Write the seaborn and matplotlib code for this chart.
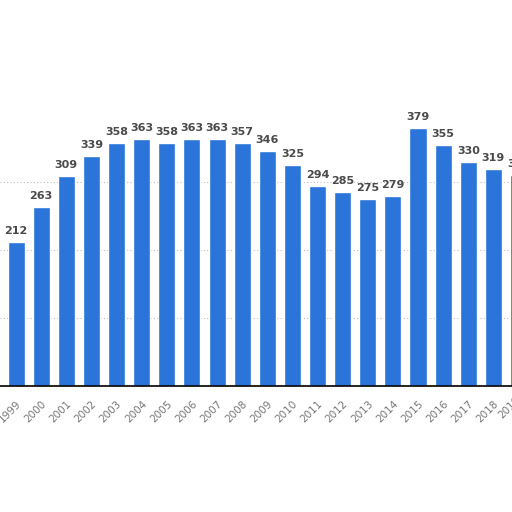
import pandas as pd
import matplotlib
matplotlib.use("Agg")
import matplotlib.pyplot as plt
import seaborn as sns

# data
years = [str(y) for y in range(1999, 2020)]
values = [212, 263, 309, 339, 358, 363, 358, 363, 363, 357, 346,
          325, 294, 285, 275, 279, 379, 355, 330, 319, 310]

df = pd.DataFrame({"year": years, "value": values})

sns.set_style("white")
plt.rcParams["font.family"] = ["DejaVu Sans"]

fig = plt.figure(figsize=(5.12, 5.12), dpi=100)
ax = fig.add_axes([0, 0.246, 1, 0.754])

sns.barplot(data=df, x="year", y="value", color="#2a74da", saturation=1,
            width=0.68, ax=ax)

for i, v in enumerate(values):
    ax.text(i, v + 9, str(v), ha="center", va="bottom", fontsize=8,
            fontweight="bold", color="#4a4a4a")

ax.set_xlim(-0.64, 19.74)
ax.set_ylim(0, 568)
ax.set_yticks([100, 200, 300])
ax.yaxis.grid(True, linestyle=(0, (1, 2)), color="#bbbbbb", linewidth=0.8)
ax.set_axisbelow(True)
ax.tick_params(axis="y", left=False, labelleft=False)
ax.tick_params(axis="x", length=0, pad=9, labelsize=7.5, labelcolor="#777777")
for lbl in ax.get_xticklabels():
    lbl.set_rotation(45)
    lbl.set_ha("right")
    lbl.set_rotation_mode("anchor")

# last year's tick sits just past the right edge, its label still peeks in
ax.annotate(years[-1], xy=(len(years) - 1, 0), xycoords=("data", "axes fraction"),
            xytext=(0, -9), textcoords="offset points", rotation=45,
            ha="right", va="center", rotation_mode="anchor",
            fontsize=7.5, color="#777777", annotation_clip=False)

for side in ["top", "left", "right"]:
    ax.spines[side].set_visible(False)
ax.spines["bottom"].set_color("black")
ax.spines["bottom"].set_linewidth(1.2)
ax.set_xlabel("")
ax.set_ylabel("")

fig.savefig("out.png", dpi=100)
